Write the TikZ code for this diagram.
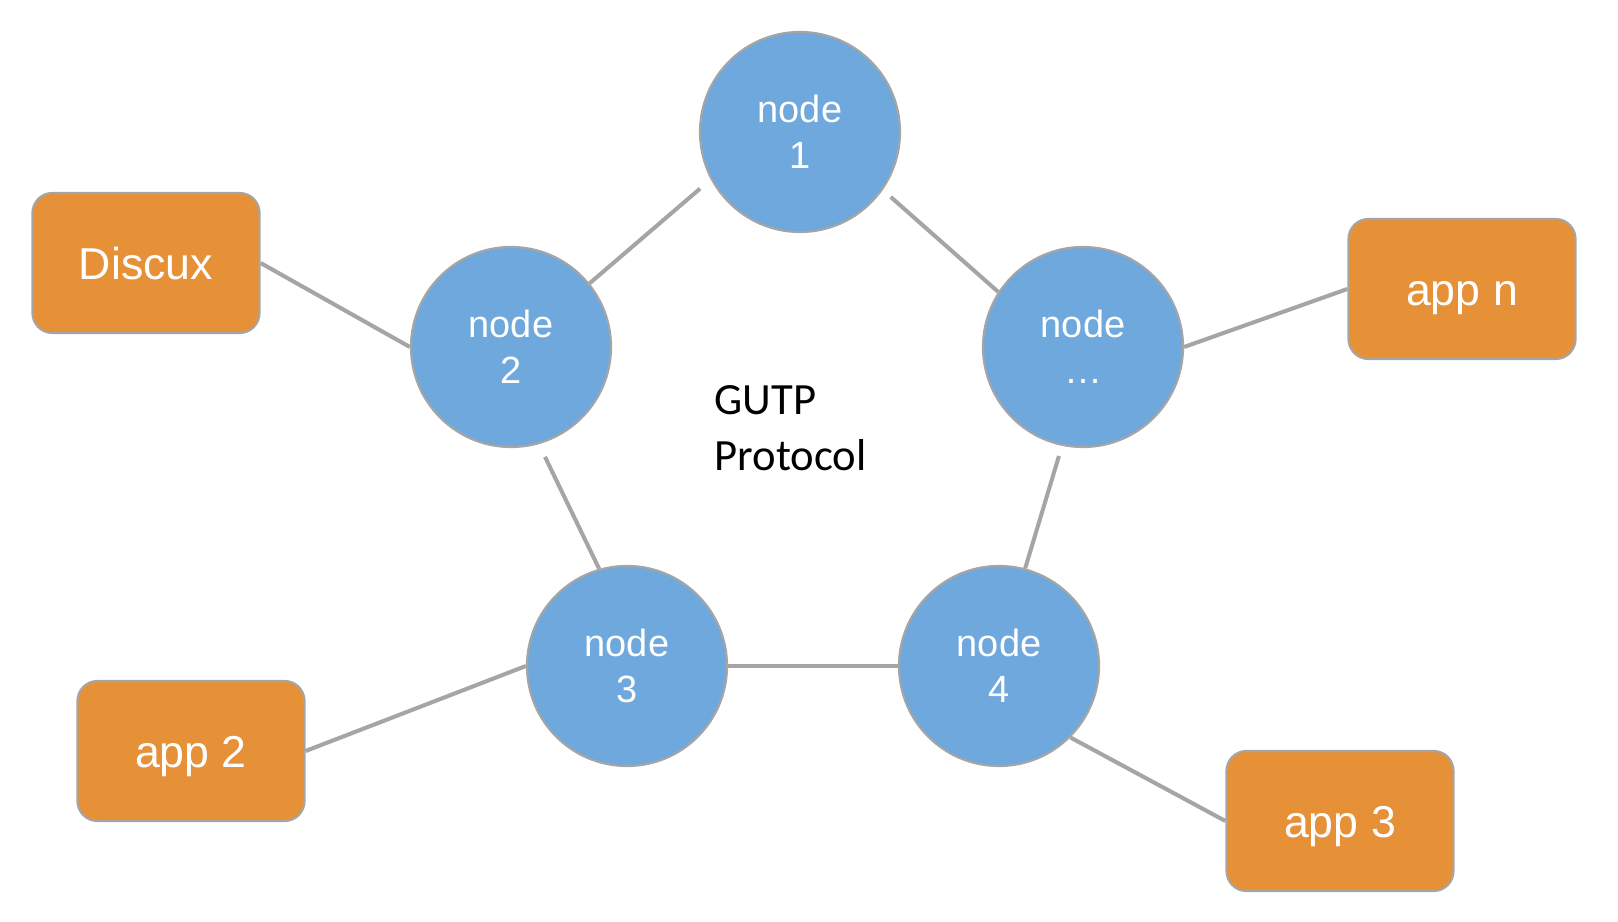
\documentclass[tikz,border=0pt]{standalone}
\usepackage{fontspec}
\setmainfont{Liberation Sans}
\newfontfamily\calibrifont{Carlito}
\definecolor{circfill}{RGB}{111,168,220}
\definecolor{boxfill}{RGB}{230,145,56}
\definecolor{edgegray}{RGB}{165,165,165}
\tikzset{
  peer/.style={circle, draw=edgegray, line width=0.6pt, fill=circfill, minimum size=2cm, inner sep=0pt, align=center, text=white, font=\fontsize{10.8}{13}\selectfont},
  appbox/.style={rectangle, rounded corners=0.2cm, draw=edgegray, line width=0.6pt, fill=boxfill, minimum width=2.27cm, minimum height=1.40cm, inner sep=0pt, text height=9.4pt, text depth=0pt, text=white, font=\fontsize{12.7}{15}\selectfont},
  link/.style={draw=edgegray, line width=1.15pt},
  caption/.style={inner sep=0pt, align=left, anchor=west, font=\calibrifont\fontsize{12.7}{15.9}\selectfont}
}
\begin{document}
\begin{tikzpicture}[x=0.01cm, y=-0.01cm]
\useasboundingbox (0,0) rectangle (1618,922);
\node[peer] (n1) at (800,132) {node\\1};
\node[peer] (n2) at (511,347) {node\\2};
\node[peer] (nn) at (1083,347) {node\\…};
\node[peer] (n3) at (627,666) {node\\3};
\node[peer] (n4) at (999,666) {node\\4};
\node[appbox] (discux) at (146,263) {Discux};
\node[appbox] (appn) at (1462,289) {app n};
\node[appbox] (app2) at (191,751) {app 2};
\node[appbox] (app3) at (1340,821) {app 3};
\node[caption] (gutp) at (714,428) {GUTP\\Protocol};
\draw[link, shorten >=4pt] (n2.39) -- (n1.208);
\draw[link, shorten <=3pt] (n1.325) -- (nn.147);
\draw[link, shorten <=4pt] (n2.286) -- (n3.106);
\draw[link, shorten <=3pt] (nn.258) -- (n4.75);
\draw[link] (n3.east) -- (n4.west);
\draw[link] (discux.east) -- (n2.west);
\draw[link] (appn.west) -- (nn.east);
\draw[link] (app2.east) -- (n3.west);
\draw[link] (app3.west) -- (n4.-45);
\end{tikzpicture}
\end{document}
